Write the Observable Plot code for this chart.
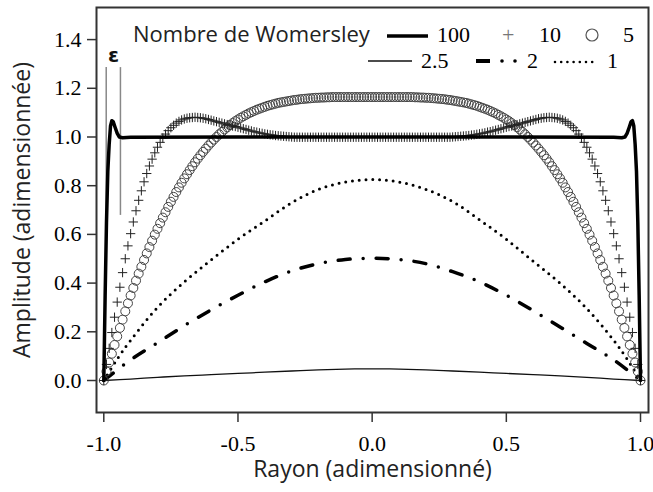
<!DOCTYPE html>
<html>
<head>
<meta charset="utf-8">
<script src="https://cdn.jsdelivr.net/npm/d3@7"></script>
<script src="https://cdn.jsdelivr.net/npm/@observablehq/plot@0.6"></script>
<style>
  html, body { margin: 0; padding: 0; background: #fff; }
  #chart svg { display: block; }
</style>
</head>
<body>
<div id="chart"></div>
<script>
// ---------- data ----------
// sample positions of the marker series (radius from -1 to 1, every 0.01)
const radius = d3.range(201).map(i => Math.round((-1 + i / 100) * 100) / 100);

// Womersley 10 (+ markers)
const wo10 = [
  0.000, 0.066, 0.132, 0.197, 0.260, 0.322, 0.383, 0.443, 0.500, 0.553,
  0.603, 0.651, 0.697, 0.740, 0.779, 0.816, 0.850, 0.881, 0.909, 0.935,
  0.958, 0.978, 0.996, 1.012, 1.026, 1.038, 1.048, 1.057, 1.064, 1.070,
  1.074, 1.077, 1.079, 1.080, 1.081, 1.080, 1.079, 1.077, 1.075, 1.072,
  1.069, 1.066, 1.063, 1.060, 1.057, 1.054, 1.051, 1.048, 1.045, 1.043,
  1.040, 1.037, 1.034, 1.031, 1.028, 1.025, 1.022, 1.020, 1.017, 1.015,
  1.013, 1.011, 1.009, 1.008, 1.006, 1.005, 1.004, 1.003, 1.002, 1.001,
  1.000, 0.999, 0.999, 0.999, 0.999, 0.999, 0.999, 0.999, 0.999, 0.999,
  0.999, 0.999, 0.999, 0.999, 0.999, 0.999, 0.999, 0.999, 0.999, 0.999,
  0.999, 0.999, 0.999, 0.999, 0.999, 0.999, 0.999, 0.999, 0.999, 0.999,
  0.999,
  0.999, 0.999, 0.999, 0.999, 0.999, 0.999, 0.999, 0.999, 0.999, 0.999,
  0.999, 0.999, 0.999, 0.999, 0.999, 0.999, 0.999, 0.999, 0.999, 0.999,
  0.999, 0.999, 0.999, 0.999, 0.999, 0.999, 0.999, 0.999, 0.999, 1.000,
  1.001, 1.002, 1.003, 1.004, 1.005, 1.006, 1.008, 1.009, 1.011, 1.013,
  1.015, 1.017, 1.020, 1.022, 1.025, 1.028, 1.031, 1.034, 1.037, 1.040,
  1.043, 1.045, 1.048, 1.051, 1.054, 1.057, 1.060, 1.063, 1.066, 1.069,
  1.072, 1.075, 1.077, 1.079, 1.080, 1.081, 1.080, 1.079, 1.077, 1.074,
  1.070, 1.064, 1.057, 1.048, 1.038, 1.026, 1.012, 0.996, 0.978, 0.958,
  0.935, 0.909, 0.881, 0.850, 0.816, 0.779, 0.740, 0.697, 0.651, 0.603,
  0.553, 0.500, 0.443, 0.383, 0.322, 0.260, 0.197, 0.132, 0.066, 0.000
];

// Womersley 5 (o markers)
const wo5 = [
  0.000, 0.037, 0.074, 0.110, 0.146, 0.181, 0.216, 0.250, 0.284, 0.317,
  0.349, 0.380, 0.410, 0.439, 0.467, 0.495, 0.522, 0.548, 0.574, 0.599,
  0.623, 0.646, 0.669, 0.691, 0.713, 0.734, 0.754, 0.774, 0.793, 0.812,
  0.830, 0.847, 0.864, 0.880, 0.896, 0.911, 0.925, 0.939, 0.952, 0.965,
  0.977, 0.989, 1.000, 1.011, 1.021, 1.031, 1.040, 1.049, 1.057, 1.065,
  1.072, 1.079, 1.085, 1.091, 1.097, 1.102, 1.107, 1.112, 1.116, 1.120,
  1.124, 1.128, 1.131, 1.134, 1.137, 1.140, 1.142, 1.144, 1.146, 1.148,
  1.150, 1.152, 1.153, 1.155, 1.156, 1.157, 1.158, 1.159, 1.160, 1.161,
  1.161, 1.162, 1.162, 1.163, 1.163, 1.164, 1.164, 1.164, 1.164, 1.164,
  1.164, 1.164, 1.164, 1.164, 1.164, 1.164, 1.164, 1.164, 1.164, 1.164,
  1.164,
  1.164, 1.164, 1.164, 1.164, 1.164, 1.164, 1.164, 1.164, 1.164, 1.164,
  1.164, 1.164, 1.164, 1.164, 1.164, 1.163, 1.163, 1.162, 1.162, 1.161,
  1.161, 1.160, 1.159, 1.158, 1.157, 1.156, 1.155, 1.153, 1.152, 1.150,
  1.148, 1.146, 1.144, 1.142, 1.140, 1.137, 1.134, 1.131, 1.128, 1.124,
  1.120, 1.116, 1.112, 1.107, 1.102, 1.097, 1.091, 1.085, 1.079, 1.072,
  1.065, 1.057, 1.049, 1.040, 1.031, 1.021, 1.011, 1.000, 0.989, 0.977,
  0.965, 0.952, 0.939, 0.925, 0.911, 0.896, 0.880, 0.864, 0.847, 0.830,
  0.812, 0.793, 0.774, 0.754, 0.734, 0.713, 0.691, 0.669, 0.646, 0.623,
  0.599, 0.574, 0.548, 0.522, 0.495, 0.467, 0.439, 0.410, 0.380, 0.349,
  0.317, 0.284, 0.250, 0.216, 0.181, 0.146, 0.110, 0.074, 0.037, 0.000
];

// Womersley 100 (thick solid line)
const wo100R = [-1, -0.995, -0.99, -0.985, -0.98, -0.975, -0.97, -0.965, -0.958, -0.95, -0.942, -0.93, -0.9, -0.5, 0,
                 0.5, 0.9, 0.93, 0.942, 0.95, 0.958, 0.965, 0.97, 0.975, 0.98, 0.985, 0.99, 0.995, 1];
const wo100A = [0, 0.35, 0.65, 0.86, 0.97, 1.045, 1.067, 1.063, 1.04, 1.015, 1.0, 0.997, 0.999, 1.0, 1.0,
                1.0, 0.999, 0.997, 1.0, 1.015, 1.04, 1.063, 1.067, 1.045, 0.97, 0.86, 0.65, 0.35, 0];

// Womersley 2.5 (thin solid line)
const wo25R = [-1, -0.9, -0.8, -0.7, -0.6, -0.5, -0.4, -0.3, -0.2, -0.1, 0, 0.1, 0.2, 0.3, 0.4, 0.5, 0.6, 0.7, 0.8, 0.9, 1];
const wo25A = [0, 0.006, 0.013, 0.019, 0.024, 0.029, 0.034, 0.039, 0.044, 0.047, 0.048, 0.047, 0.044, 0.039, 0.034, 0.029, 0.024, 0.019, 0.013, 0.006, 0];

// Womersley 2 (dash-dot line)
const wo2R = [-1, -0.9, -0.8, -0.7, -0.6, -0.5, -0.4, -0.3, -0.2, -0.1, 0, 0.1, 0.2, 0.3, 0.4, 0.5, 0.6, 0.7, 0.8, 0.9, 1];
const wo2A = [0, 0.085, 0.155, 0.225, 0.29, 0.35, 0.405, 0.45, 0.48, 0.497, 0.502, 0.497, 0.48, 0.447, 0.405, 0.35, 0.287, 0.22, 0.152, 0.085, 0];

// Womersley 1 (dotted line)
const wo1R = [-1, -0.95, -0.9, -0.8, -0.7, -0.6, -0.5, -0.4, -0.3, -0.2, -0.1, 0, 0.1, 0.2, 0.3, 0.4, 0.5, 0.6, 0.7, 0.8, 0.9, 0.95, 1];
const wo1A = [0, 0.088, 0.165, 0.30, 0.405, 0.495, 0.58, 0.655, 0.73, 0.785, 0.815, 0.825, 0.815, 0.785, 0.735, 0.66, 0.58, 0.49, 0.40, 0.295, 0.165, 0.088, 0];

// epsilon (boundary layer) annotation
const epsilonBounds = [-0.991, -0.938];
const epsilonSpan = [0.678, 1.285];
const epsilonLabel = [{x: -0.964, y: 1.335, text: "ε"}];

// axes
const xTicks = [-1, -0.5, 0, 0.5, 1];
const yTicks = [0, 0.2, 0.4, 0.6, 0.8, 1.0, 1.2, 1.4];
const xTitle = "Rayon (adimensionné)";
const yTitle = "Amplitude (adimensionnée)";
const legendTitle = "Nombre de Womersley";
const legendLabels = ["100", "10", "5", "2.5", "2", "1"];

if (wo10.length !== 201 || wo5.length !== 201) throw new Error("bad lengths " + wo10.length + " " + wo5.length);

const pts = (xs, ys) => xs.map((x, i) => ({x, y: ys[i]}));
const serif = "'Liberation Serif', 'Times New Roman', serif";
const sans = "'Open Sans', 'Noto Sans', sans-serif";
const fmt = d => d.toFixed(1);

function legend() {
  const g = d3.create("svg:g").attr("text-anchor", "start");
  const txt = (x, y, s, fam, size, fill) => g.append("text").attr("x", x).attr("y", y)
    .attr("text-anchor", "start")
    .attr("font-family", fam).attr("font-size", size).attr("fill", fill).text(s);
  txt(133, 42, legendTitle, sans, 22, "#222");
  g.append("line").attr("x1", 387).attr("x2", 428).attr("y1", 36).attr("y2", 36)
    .attr("stroke", "#000").attr("stroke-width", 3.5);
  txt(437, 42, legendLabels[0], serif, 22, "#000");
  txt(502, 42, "+", serif, 22, "#777");
  txt(539, 42, legendLabels[1], serif, 22, "#000");
  g.append("circle").attr("cx", 592).attr("cy", 35).attr("r", 6)
    .attr("fill", "none").attr("stroke", "#555").attr("stroke-width", 1.2);
  txt(623, 42, legendLabels[2], serif, 22, "#000");
  g.append("line").attr("x1", 368).attr("x2", 412).attr("y1", 61).attr("y2", 61)
    .attr("stroke", "#111").attr("stroke-width", 1.3);
  txt(421, 68, legendLabels[3], serif, 22, "#000");
  g.append("line").attr("x1", 476).attr("x2", 490).attr("y1", 61).attr("y2", 61)
    .attr("stroke", "#000").attr("stroke-width", 4);
  g.append("circle").attr("cx", 502).attr("cy", 61).attr("r", 1.8).attr("fill", "#000");
  g.append("circle").attr("cx", 515).attr("cy", 61).attr("r", 1.8).attr("fill", "#000");
  txt(527, 68, legendLabels[4], serif, 22, "#000");
  g.append("line").attr("x1", 555).attr("x2", 598).attr("y1", 62).attr("y2", 62)
    .attr("stroke", "#000").attr("stroke-width", 2.6).attr("stroke-linecap", "round")
    .attr("stroke-dasharray", "0 6.2");
  txt(607, 68, legendLabels[5], serif, 22, "#000");
  return g.node();
}

const chart = Plot.plot({
  width: 653,
  height: 492,
  marginLeft: 96,
  marginRight: 5,
  marginTop: 7,
  marginBottom: 80,
  style: {fontFamily: serif, fontSize: "22px", color: "#000", background: "#fff"},
  x: {domain: [-1.0272, 1.0298]},
  y: {domain: [-0.1314, 1.5318]},
  marks: [
    // tick marks only (labels drawn as text marks below)
    Plot.axisX(xTicks, {tickSize: 10, tickFormat: () => "", label: null, stroke: "#333", strokeWidth: 1.5}),
    Plot.axisY(yTicks, {tickSize: 9, tickFormat: () => "", label: null, stroke: "#333", strokeWidth: 1.5}),
    Plot.text(xTicks, {x: d => d, text: fmt, frameAnchor: "bottom", dy: 23, lineAnchor: "top",
      textAnchor: "middle", fontFamily: serif, fontSize: 22, fill: "#000"}),
    Plot.text(yTicks, {y: d => d, text: fmt, frameAnchor: "left", dx: -15, lineAnchor: "middle",
      textAnchor: "end", fontFamily: serif, fontSize: 22, fill: "#000"}),
    Plot.text([xTitle], {frameAnchor: "bottom", dy: 57, lineAnchor: "middle", textAnchor: "middle",
      fontFamily: sans, fontSize: 23, fill: "#222"}),
    Plot.text([yTitle], {frameAnchor: "left", dx: -74, rotate: -90, textAnchor: "middle", lineAnchor: "middle",
      fontFamily: sans, fontSize: 23, fill: "#222"}),
    Plot.ruleX(epsilonBounds, {y1: epsilonSpan[0], y2: epsilonSpan[1], stroke: "#888", strokeWidth: 1.5}),
    Plot.text(epsilonLabel, {x: "x", y: "y", text: "text", fontFamily: "'DejaVu Sans', sans-serif",
      fontWeight: "bold", fontSize: 20, fill: "#111"}),
    Plot.line(pts(wo25R, wo25A), {x: "x", y: "y", stroke: "#111", strokeWidth: 1.3, curve: "catmull-rom"}),
    Plot.line(pts(wo2R, wo2A), {x: "x", y: "y", stroke: "#000", strokeWidth: 3.5, curve: "catmull-rom",
      strokeDasharray: "12 13 0 13", strokeLinecap: "round"}),
    Plot.line(pts(wo1R, wo1A), {x: "x", y: "y", stroke: "#000", strokeWidth: 3, curve: "catmull-rom",
      strokeDasharray: "0 6.8", strokeLinecap: "round"}),
    Plot.dot(radius.map((x, i) => ({x, y: wo5[i]})), {x: "x", y: "y", r: 4.5, stroke: "#444",
      strokeWidth: 1, fill: "none"}),
    Plot.dot(radius.map((x, i) => ({x, y: wo10[i]})), {x: "x", y: "y", symbol: "plus", r: 3.1,
      stroke: "#222", strokeWidth: 1}),
    Plot.line(pts(wo100R, wo100A), {x: "x", y: "y", stroke: "#000", strokeWidth: 3.5, strokeLinejoin: "round"}),
    Plot.frame({stroke: "#333", strokeWidth: 2}),
    legend
  ]
});
document.getElementById("chart").appendChild(chart);
</script>
</body>
</html>
